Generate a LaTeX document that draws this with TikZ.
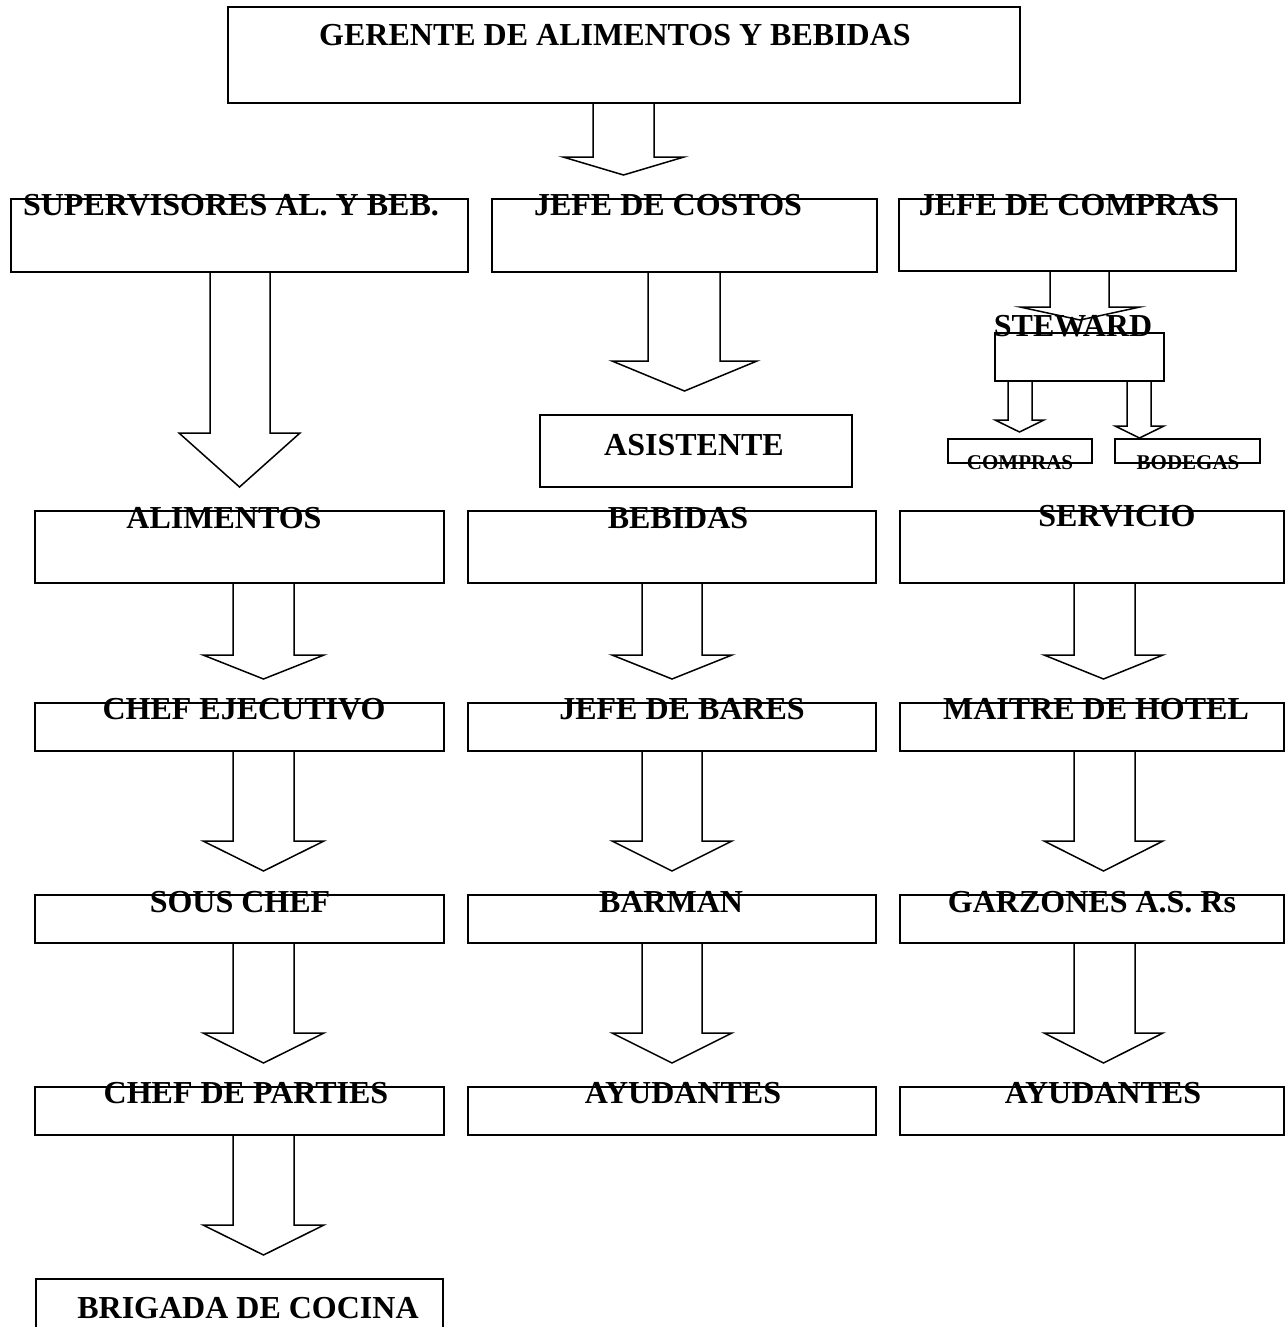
\documentclass[tikz,border=0pt]{standalone}
\usepackage{fontspec}
\setmainfont{Liberation Serif}
\usetikzlibrary{fit}

\tikzset{
  box/.style={draw, line width=1pt, inner sep=0pt, outer sep=0pt},
  lbl/.style={anchor=base, inner sep=0pt, font=\bfseries\fontsize{16pt}{16pt}\selectfont},
  smalllbl/.style={anchor=base, inner sep=0pt, font=\bfseries\fontsize{10.5pt}{10.5pt}\selectfont},
  blockarrow/.style={draw, line width=0.75pt, line join=miter},
}

% rectangle spanning two corners: name, x1, y1, x2, y2
\newcommand{\mkbox}[5]{\node[box, fit={(#2,#3) (#4,#5)}] (#1) {};}
% hollow block arrow hanging from a box:
% source, shaft left, shaft right, head left, head right, head y, tip y
\newcommand{\blockarr}[7]{%
  \draw[blockarrow] (#2,0 |- #1.south) -- (#2,#6) -- (#4,#6)
    -- ({(#4+#5)/2},#7) -- (#5,#6) -- (#3,#6) -- (#3,0 |- #1.south);}

\begin{document}
\begin{tikzpicture}[x=0.5pt, y=-0.5pt]
\useasboundingbox (0,0) rectangle (1286,1327);

% ---- boxes ----
\mkbox{ger}{228}{7}{1020}{103}

\mkbox{sup}{11}{199}{468}{272}
\mkbox{cos}{492}{199}{877}{272}
\mkbox{jcom}{899}{199}{1236}{271}

\mkbox{stew}{995}{333}{1164}{381}
\mkbox{asis}{540}{415}{852}{487}
\mkbox{comp}{948}{439}{1092}{463}
\mkbox{bod}{1115}{439}{1260}{463}

\mkbox{ali}{35}{511}{444}{583}
\mkbox{beb}{468}{511}{876}{583}
\mkbox{serv}{900}{511}{1284}{583}

\mkbox{chef}{35}{703}{444}{751}
\mkbox{bares}{468}{703}{876}{751}
\mkbox{mait}{900}{703}{1284}{751}

\mkbox{sous}{35}{895}{444}{943}
\mkbox{barm}{468}{895}{876}{943}
\mkbox{garz}{900}{895}{1284}{943}

\mkbox{part}{35}{1087}{444}{1135}
\mkbox{ayu1}{468}{1087}{876}{1135}
\mkbox{ayu2}{900}{1087}{1284}{1135}

\mkbox{brig}{36}{1279}{443}{1340}

% ---- block arrows ----
\blockarr{ger}{593}{654}{563}{684}{157}{175}

\blockarr{sup}{210}{270}{179}{300}{433}{487}
\blockarr{cos}{648}{720}{612}{757}{361}{391}
\blockarr{jcom}{1050}{1109}{1020}{1140}{307}{320}

\blockarr{stew}{1008}{1032}{995}{1044}{420}{432}
\blockarr{stew}{1127}{1151}{1115}{1164}{426}{438}

\blockarr{ali}{233}{294}{203}{324}{655}{679}
\blockarr{beb}{642}{702}{612}{732}{655}{679}
\blockarr{serv}{1074}{1135}{1044}{1163}{655}{679}

\blockarr{chef}{233}{294}{203}{324}{841}{871}
\blockarr{bares}{642}{702}{612}{732}{841}{871}
\blockarr{mait}{1074}{1135}{1044}{1163}{841}{871}

\blockarr{sous}{233}{294}{203}{324}{1033}{1063}
\blockarr{barm}{642}{702}{612}{732}{1033}{1063}
\blockarr{garz}{1074}{1135}{1044}{1163}{1033}{1063}

\blockarr{part}{233}{294}{203}{324}{1225}{1255}

% ---- labels ----
\node[lbl] (ger-t) at (615,46) {GERENTE DE ALIMENTOS Y BEBIDAS};

\node[lbl] (sup-t) at (231,215) {SUPERVISORES AL. Y BEB.};
\node[lbl] (cos-t) at (668,215) {JEFE DE COSTOS};
\node[lbl] (jcom-t) at (1069,215) {JEFE DE COMPRAS};

\node[lbl] (stew-t) at (1073,336) {STEWARD};
\node[lbl] (asis-t) at (694,455) {ASISTENTE};
\node[smalllbl] (comp-t) at (1020,469) {COMPRAS};
\node[smalllbl] (bod-t) at (1188,469) {BODEGAS};

\node[lbl] (ali-t) at (224,528) {ALIMENTOS};
\node[lbl] (beb-t) at (678,528) {BEBIDAS};
\node[lbl] (serv-t) at (1117,526) {SERVICIO};

\node[lbl] (chef-t) at (244,719) {CHEF EJECUTIVO};
\node[lbl] (bares-t) at (682,719) {JEFE DE BARES};
\node[lbl] (mait-t) at (1096,719) {MAITRE DE HOTEL};

\node[lbl] (sous-t) at (240,912) {SOUS CHEF};
\node[lbl] (barm-t) at (671,912) {BARMAN};
\node[lbl] (garz-t) at (1092,912) {GARZONES A.S. Rs};

\node[lbl] (part-t) at (246,1103) {CHEF DE PARTIES};
\node[lbl] (ayu1-t) at (683,1103) {AYUDANTES};
\node[lbl] (ayu2-t) at (1103,1103) {AYUDANTES};

\node[lbl] (brig-t) at (248,1318) {BRIGADA DE COCINA};
\end{tikzpicture}
\end{document}
